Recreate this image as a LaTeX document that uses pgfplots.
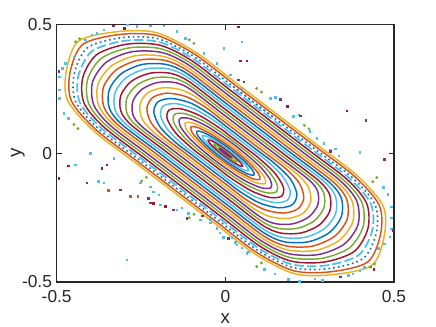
\documentclass[border=0pt]{standalone}
\usepackage{fontspec}
\setmainfont{Liberation Sans}
\usepackage{pgfplots}
\pgfplotsset{compat=1.18}
\definecolor{mB}{RGB}{0,114,189}
\definecolor{mO}{RGB}{217,83,25}
\definecolor{mY}{RGB}{237,177,32}
\definecolor{mP}{RGB}{126,47,142}
\definecolor{mG}{RGB}{119,172,48}
\definecolor{mL}{RGB}{77,190,238}
\definecolor{mR}{RGB}{162,20,47}
\definecolor{axg}{RGB}{38,38,38}
\begin{document}
\begin{tikzpicture}
\begin{axis}[
  scale only axis, width=253pt, height=193.3pt,
  xmin=-0.5, xmax=0.5, ymin=-0.5, ymax=0.5,
  xtick={-0.5,0,0.5}, ytick={-0.5,0,0.5},
  xticklabels={-0.5,0,0.5}, yticklabels={-0.5,0,0.5},
  tick align=inside, major tick length=4pt,
  axis line style={color=axg, line width=1pt},
  tick style={color=axg, line width=0.9pt},
  ticklabel style={font=\fontsize{13}{15}\selectfont, text=axg},
  xticklabel style={yshift=-3pt},
  xlabel={x}, ylabel={y},
  label style={font=\fontsize{14}{16}\selectfont, text=axg},
  xlabel style={at={(axis description cs:0.5,-0.14)}, anchor=center},
  ylabel style={at={(axis description cs:-0.115,0.5)}, anchor=center},
  /pgf/number format/assume math mode=true,
  cv/.style={smooth, line width=1.1pt, mark=none},
]
% chaotic sea
\addplot[only marks, mark=square*, mark size=0.55pt, color=mL] coordinates {
(-0.291,0.498) (-0.262,0.492) (-0.223,0.494) (-0.183,0.494) (-0.381,0.465) (-0.361,0.478) (-0.396,0.459) (-0.415,0.439) (-0.450,0.374) (-0.474,0.349) (-0.484,0.329) (-0.492,0.297) (-0.492,0.246) (-0.492,0.213) (-0.479,0.155) (-0.465,0.136) (-0.144,0.472) (-0.119,0.446) (-0.064,0.387) (-0.025,0.349) (0.014,0.304) (0.049,0.252) (-0.401,0.000) (-0.330,-0.020)
(0.049,0.433) (-0.005,0.407) (0.133,0.213) (0.148,0.217) (0.163,0.207) (0.202,0.143) (0.217,0.149) (0.251,0.085) (0.271,0.058) (0.291,0.039) (0.311,0.013) (0.336,-0.010)
(-0.445,-0.045) (-0.376,-0.110) (-0.361,-0.116) (-0.292,-0.414) (-0.252,-0.116) (-0.223,-0.130) (-0.213,-0.149) (-0.198,-0.162) (-0.193,-0.200) (-0.144,-0.219) (-0.129,-0.213) (-0.110,-0.233) (-0.074,-0.258) (-0.045,-0.271) (-0.025,-0.291) (-0.006,-0.326) (0.019,-0.326) (0.034,-0.355) (0.048,-0.368) (0.063,-0.388)
(0.288,-0.494) (0.265,-0.488) (0.219,-0.497) (0.187,-0.490) (0.378,-0.468) (0.364,-0.474) (0.399,-0.456) (0.412,-0.443) (0.453,-0.370) (0.471,-0.352) (0.487,-0.325) (0.492,-0.293) (0.492,-0.250) (0.492,-0.209) (0.482,-0.159) (0.468,-0.132) (0.147,-0.468) (0.115,-0.450) (0.068,-0.383) (0.029,-0.345) (-0.017,-0.308) (-0.045,-0.256) (0.398,0.004) (0.326,0.016)
};
\addplot[only marks, mark=square*, mark size=0.55pt, color=mP] coordinates {
(-0.332,0.494) (-0.494,0.317) (0.054,0.277) (0.039,0.284) (0.163,0.209) (0.222,0.145) (0.311,0.007) (-0.411,-0.116) (-0.312,-0.142) (-0.228,-0.175) (-0.223,-0.192) (-0.154,-0.219) (-0.115,-0.252) (-0.069,-0.243) (0.009,-0.330) (0.340,-0.480) (0.496,-0.299) (0.416,0.127) (0.471,-0.024)
};
\addplot[only marks, mark=square*, mark size=0.55pt, color=mR] coordinates {
(0.039,0.491) (0.044,0.359) (0.063,0.359) (0.183,0.181) (0.360,0.165) (-0.465,-0.049) (-0.494,-0.097) (-0.366,-0.058) (-0.351,-0.045) (-0.178,-0.207) (-0.213,-0.194) (0.440,-0.450) (0.430,-0.440) (-0.300,0.485)
};
\addplot[only marks, mark=square*, mark size=0.55pt, color=mO] coordinates {
(-0.347,-0.145) (-0.282,-0.168) (-0.260,-0.168)
};
\addplot[only marks, mark=*, mark size=0.9pt, color=mG] coordinates {
(-0.444,0.432) (-0.432,0.444) (-0.107,0.440) (-0.093,0.426) (-0.449,0.111) (-0.437,0.095) (0.093,0.251) (0.107,0.237) (0.234,0.108) (0.248,0.094)
(0.442,-0.430) (0.430,-0.442) (0.107,-0.426) (0.093,-0.440) (0.449,-0.095) (0.437,-0.111) (-0.093,-0.237) (-0.107,-0.251) (-0.234,-0.094) (-0.248,-0.108)
};
% invariant curves, outside in
\addplot[cv, color=mY] coordinates {(.1520,.1520) (.0334,.2706) (-.0852,.3892) (-.2044,.4676) (-.3193,.4713) (-.4348,.4348) (-.4713,.3193) (-.4676,.2044) (-.3892,.0852) (-.2706,-.0334) (-.1520,-.1520) (-.0334,-.2706) (.0852,-.3892) (.2044,-.4676) (.3193,-.4713) (.4348,-.4348) (.4713,-.3193) (.4676,-.2044) (.3892,-.0852) (.2706,.0334) (.1520,.1520) (.0334,.2706)};
\addplot[cv, color=mO] coordinates {(.1464,.1464) (.0279,.2649) (-.0906,.3834) (-.2028,.4564) (-.3138,.4602) (-.4222,.4222) (-.4602,.3138) (-.4564,.2028) (-.3834,.0906) (-.2649,-.0279) (-.1464,-.1464) (-.0279,-.2649) (.0906,-.3834) (.2028,-.4564) (.3138,-.4602) (.4222,-.4222) (.4602,-.3138) (.4564,-.2028) (.3834,-.0906) (.2649,.0279) (.1464,.1464) (.0279,.2649)};
\addplot[cv, color=mB, line width=1.2pt, dash pattern=on 1.2pt off 2.4pt] coordinates {(.1407,.1407) (.0229,.2585) (-.0949,.3763) (-.2004,.4440) (-.3071,.4479) (-.4087,.4087) (-.4479,.3071) (-.4440,.2004) (-.3763,.0949) (-.2585,-.0229) (-.1407,-.1407) (-.0229,-.2585) (.0949,-.3763) (.2004,-.4440) (.3071,-.4479) (.4087,-.4087) (.4479,-.3071) (.4440,-.2004) (.3763,-.0949) (.2585,.0229) (.1407,.1407) (.0229,.2585)};
\addplot[cv, color=mL, line width=1.3pt, dash pattern=on 7pt off 2.5pt] coordinates {(.1351,.1351) (.0181,.2521) (-.0988,.3690) (-.1976,.4316) (-.3003,.4355) (-.3953,.3953) (-.4355,.3003) (-.4316,.1976) (-.3690,.0988) (-.2521,-.0181) (-.1351,-.1351) (-.0181,-.2521) (.0988,-.3690) (.1976,-.4316) (.3003,-.4355) (.3953,-.3953) (.4355,-.3003) (.4316,-.1976) (.3690,-.0988) (.2521,.0181) (.1351,.1351) (.0181,.2521)};
\addplot[cv, color=mR] coordinates {(.1294,.1294) (.0135,.2453) (-.1023,.3611) (-.1947,.4189) (-.2931,.4225) (-.3818,.3818) (-.4225,.2931) (-.4189,.1947) (-.3611,.1023) (-.2453,-.0135) (-.1294,-.1294) (-.0135,-.2453) (.1023,-.3611) (.1947,-.4189) (.2931,-.4225) (.3818,-.3818) (.4225,-.2931) (.4189,-.1947) (.3611,-.1023) (.2453,.0135) (.1294,.1294) (.0135,.2453)};
\addplot[cv, color=mG] coordinates {(.1230,.1230) (.0084,.2376) (-.1062,.3522) (-.1920,.4050) (-.2854,.4084) (-.3677,.3677) (-.4084,.2854) (-.4050,.1920) (-.3522,.1062) (-.2376,-.0084) (-.1230,-.1230) (-.0084,-.2376) (.1062,-.3522) (.1920,-.4050) (.2854,-.4084) (.3677,-.3677) (.4084,-.2854) (.4050,-.1920) (.3522,-.1062) (.2376,.0084) (.1230,.1230) (.0084,.2376)};
\addplot[cv, color=mP] coordinates {(.1167,.1167) (.0039,.2295) (-.1089,.3423) (-.1881,.3903) (-.2766,.3934) (-.3528,.3528) (-.3934,.2766) (-.3903,.1881) (-.3423,.1089) (-.2295,-.0039) (-.1167,-.1167) (-.0039,-.2295) (.1089,-.3423) (.1881,-.3903) (.2766,-.3934) (.3528,-.3528) (.3934,-.2766) (.3903,-.1881) (.3423,-.1089) (.2295,.0039) (.1167,.1167) (.0039,.2295)};
\addplot[cv, color=mY] coordinates {(.1103,.1103) (-.0005,.2211) (-.1113,.3319) (-.1843,.3753) (-.2672,.3776) (-.3380,.3380) (-.3776,.2672) (-.3753,.1843) (-.3319,.1113) (-.2211,.0005) (-.1103,-.1103) (.0005,-.2211) (.1113,-.3319) (.1843,-.3753) (.2672,-.3776) (.3380,-.3380) (.3776,-.2672) (.3753,-.1843) (.3319,-.1113) (.2211,-.0005) (.1103,.1103) (-.0005,.2211)};
\addplot[cv, color=mO] coordinates {(.1039,.1039) (-.0047,.2125) (-.1133,.3211) (-.1802,.3602) (-.2570,.3610) (-.3232,.3232) (-.3610,.2570) (-.3602,.1802) (-.3211,.1133) (-.2125,.0047) (-.1039,-.1039) (.0047,-.2125) (.1133,-.3211) (.1802,-.3602) (.2570,-.3610) (.3232,-.3232) (.3610,-.2570) (.3602,-.1802) (.3211,-.1133) (.2125,-.0047) (.1039,.1039) (-.0047,.2125)};
\addplot[cv, color=mB] coordinates {(.0976,.0976) (-.0078,.2030) (-.1131,.3083) (-.1750,.3440) (-.2464,.3440) (-.3083,.3083) (-.3440,.2464) (-.3440,.1750) (-.3083,.1131) (-.2030,.0078) (-.0976,-.0976) (.0078,-.2030) (.1131,-.3083) (.1750,-.3440) (.2464,-.3440) (.3083,-.3083) (.3440,-.2464) (.3440,-.1750) (.3083,-.1131) (.2030,-.0078) (.0976,.0976) (-.0078,.2030)};
\addplot[cv, color=mL] coordinates {(.0912,.0912) (-.0099,.1923) (-.1110,.2934) (-.1688,.3268) (-.2356,.3268) (-.2934,.2934) (-.3268,.2356) (-.3268,.1688) (-.2934,.1110) (-.1923,.0099) (-.0912,-.0912) (.0099,-.1923) (.1110,-.2934) (.1688,-.3268) (.2356,-.3268) (.2934,-.2934) (.3268,-.2356) (.3268,-.1688) (.2934,-.1110) (.1923,-.0099) (.0912,.0912) (-.0099,.1923)};
\addplot[cv, color=mR] coordinates {(.0849,.0849) (-.0120,.1818) (-.1088,.2786) (-.1627,.3097) (-.2247,.3097) (-.2786,.2786) (-.3097,.2247) (-.3097,.1627) (-.2786,.1088) (-.1818,.0120) (-.0849,-.0849) (.0120,-.1818) (.1088,-.2786) (.1627,-.3097) (.2247,-.3097) (.2786,-.2786) (.3097,-.2247) (.3097,-.1627) (.2786,-.1088) (.1818,-.0120) (.0849,.0849) (-.0120,.1818)};
\addplot[cv, color=mG] coordinates {(.0785,.0785) (-.0138,.1708) (-.1061,.2631) (-.1559,.2919) (-.2133,.2919) (-.2631,.2631) (-.2919,.2133) (-.2919,.1559) (-.2631,.1061) (-.1708,.0138) (-.0785,-.0785) (.0138,-.1708) (.1061,-.2631) (.1559,-.2919) (.2133,-.2919) (.2631,-.2631) (.2919,-.2133) (.2919,-.1559) (.2631,-.1061) (.1708,-.0138) (.0785,.0785) (-.0138,.1708)};
\addplot[cv, color=mP] coordinates {(.0721,.0721) (-.0156,.1598) (-.1033,.2475) (-.1491,.2739) (-.2017,.2739) (-.2475,.2475) (-.2739,.2017) (-.2739,.1491) (-.2475,.1033) (-.1598,.0156) (-.0721,-.0721) (.0156,-.1598) (.1033,-.2475) (.1491,-.2739) (.2017,-.2739) (.2475,-.2475) (.2739,-.2017) (.2739,-.1491) (.2475,-.1033) (.1598,-.0156) (.0721,.0721) (-.0156,.1598)};
\addplot[cv, color=mY] coordinates {(.0658,.0658) (-.0074,.1390) (-.0806,.2122) (-.1322,.2462) (-.1875,.2533) (-.2319,.2319) (-.2533,.1875) (-.2462,.1322) (-.2122,.0806) (-.1390,.0074) (-.0658,-.0658) (.0074,-.1390) (.0806,-.2122) (.1322,-.2462) (.1875,-.2533) (.2319,-.2319) (.2533,-.1875) (.2462,-.1322) (.2122,-.0806) (.1390,-.0074) (.0658,.0658) (-.0074,.1390)};
\addplot[cv, color=mO] coordinates {(.0594,.0594) (-.0009,.1197) (-.0612,.1800) (-.1167,.2195) (-.1732,.2326) (-.2156,.2156) (-.2326,.1732) (-.2195,.1167) (-.1800,.0612) (-.1197,.0009) (-.0594,-.0594) (.0009,-.1197) (.0612,-.1800) (.1167,-.2195) (.1732,-.2326) (.2156,-.2156) (.2326,-.1732) (.2195,-.1167) (.1800,-.0612) (.1197,-.0009) (.0594,.0594) (-.0009,.1197)};
\addplot[cv, color=mB] coordinates {(.0530,.0530) (.0050,.1010) (-.0430,.1490) (-.1018,.1936) (-.1590,.2120) (-.1994,.1994) (-.2120,.1590) (-.1936,.1018) (-.1490,.0430) (-.1010,-.0050) (-.0530,-.0530) (-.0050,-.1010) (.0430,-.1490) (.1018,-.1936) (.1590,-.2120) (.1994,-.1994) (.2120,-.1590) (.1936,-.1018) (.1490,-.0430) (.1010,.0050) (.0530,.0530) (.0050,.1010)};
\addplot[cv, color=mL] coordinates {(.0467,.0467) (.0100,.0834) (-.0268,.1202) (-.0880,.1688) (-.1451,.1919) (-.1832,.1832) (-.1919,.1451) (-.1688,.0880) (-.1202,.0268) (-.0834,-.0100) (-.0467,-.0467) (-.0100,-.0834) (.0268,-.1202) (.0880,-.1688) (.1451,-.1919) (.1832,-.1832) (.1919,-.1451) (.1688,-.0880) (.1202,-.0268) (.0834,.0100) (.0467,.0467) (.0100,.0834)};
\addplot[cv, color=mR] coordinates {(.0403,.0403) (.0133,.0673) (-.0137,.0943) (-.0756,.1454) (-.1316,.1720) (-.1669,.1669) (-.1720,.1316) (-.1454,.0756) (-.0943,.0137) (-.0673,-.0133) (-.0403,-.0403) (-.0133,-.0673) (.0137,-.0943) (.0756,-.1454) (.1316,-.1720) (.1669,-.1669) (.1720,-.1316) (.1454,-.0756) (.0943,-.0137) (.0673,.0133) (.0403,.0403) (.0133,.0673)};
\addplot[cv, color=mG] coordinates {(.0346,.0346) (-.0017,.0709) (-.0635,.1235) (-.1180,.1526) (-.1506,.1506) (-.1526,.1180) (-.1235,.0635) (-.0709,.0017) (-.0346,-.0346) (.0017,-.0709) (.0635,-.1235) (.1180,-.1526) (.1506,-.1506) (.1526,-.1180) (.1235,-.0635) (.0709,-.0017) (.0346,.0346) (-.0017,.0709)};
\addplot[cv, color=mP] coordinates {(.0063,.0517) (-.0535,.1037) (-.1049,.1339) (-.1344,.1344) (-.1339,.1049) (-.1037,.0535) (-.0517,-.0063) (-.0063,-.0517) (.0535,-.1037) (.1049,-.1339) (.1344,-.1344) (.1339,-.1049) (.1037,-.0535) (.0517,.0063) (.0063,.0517) (-.0535,.1037)};
\addplot[cv, color=mY] coordinates {(.0240,.0240) (-.0383,.0799) (-.0903,.1143) (-.1181,.1181) (-.1143,.0903) (-.0799,.0383) (-.0240,-.0240) (.0383,-.0799) (.0903,-.1143) (.1181,-.1181) (.1143,-.0903) (.0799,-.0383) (.0240,.0240) (-.0383,.0799)};
\addplot[cv, color=mO] coordinates {(.0191,.0191) (-.0344,.0674) (-.0786,.0978) (-.1018,.1018) (-.0978,.0786) (-.0674,.0344) (-.0191,-.0191) (.0344,-.0674) (.0786,-.0978) (.1018,-.1018) (.0978,-.0786) (.0674,-.0344) (.0191,.0191) (-.0344,.0674)};
\addplot[cv, color=mB] coordinates {(.0148,.0148) (-.0297,.0553) (-.0661,.0809) (-.0849,.0849) (-.0809,.0661) (-.0553,.0297) (-.0148,-.0148) (.0297,-.0553) (.0661,-.0809) (.0849,-.0849) (.0809,-.0661) (.0553,-.0297) (.0148,.0148) (-.0297,.0553)};
\addplot[cv, color=mL] coordinates {(.0106,.0106) (-.0248,.0432) (-.0535,.0641) (-.0679,.0679) (-.0641,.0535) (-.0432,.0248) (-.0106,-.0106) (.0248,-.0432) (.0535,-.0641) (.0679,-.0679) (.0641,-.0535) (.0432,-.0248) (.0106,.0106) (-.0248,.0432)};
\addplot[cv, color=mR] coordinates {(.0071,.0071) (-.0194,.0316) (-.0405,.0477) (-.0509,.0509) (-.0477,.0405) (-.0316,.0194) (-.0071,-.0071) (.0194,-.0316) (.0405,-.0477) (.0509,-.0509) (.0477,-.0405) (.0316,-.0194) (.0071,.0071) (-.0194,.0316)};
\addplot[cv, color=mG] coordinates {(.0042,.0042) (-.0134,.0206) (-.0273,.0315) (-.0339,.0339) (-.0315,.0273) (-.0206,.0134) (-.0042,-.0042) (.0134,-.0206) (.0273,-.0315) (.0339,-.0339) (.0315,-.0273) (.0206,-.0134) (.0042,.0042) (-.0134,.0206)};
\addplot[cv, color=mP] coordinates {(.0021,.0021) (-.0071,.0107) (-.0142,.0164) (-.0177,.0177) (-.0164,.0142) (-.0107,.0071) (-.0021,-.0021) (.0071,-.0107) (.0142,-.0164) (.0177,-.0177) (.0164,-.0142) (.0107,-.0071) (.0021,.0021) (-.0071,.0107)};
\end{axis}
\pgfresetboundingbox
\path ([shift={(-42.5pt,-33.75pt)}]current axis.south west) rectangle ([shift={(31.5pt,18.2pt)}]current axis.north east);
\end{tikzpicture}
\end{document}
